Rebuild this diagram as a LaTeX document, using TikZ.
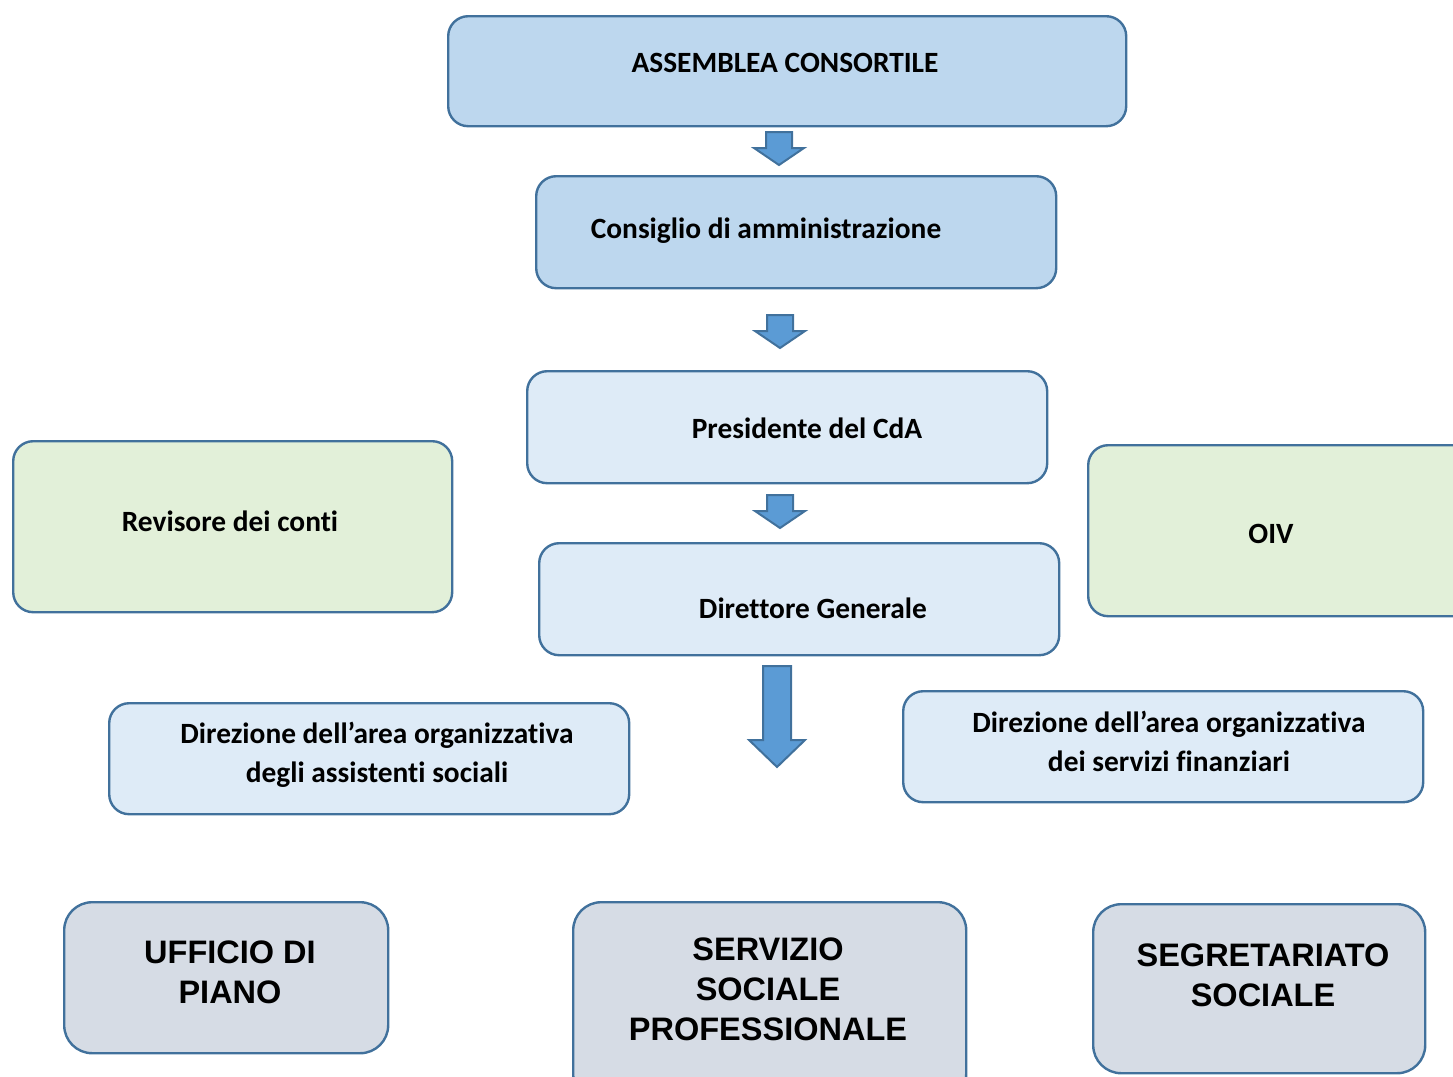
\documentclass[tikz,border=0pt]{standalone}
\usepackage{fontspec}
\setmainfont[Ligatures=NoCommon]{Carlito}
\newfontfamily\arialf{Liberation Sans}
\definecolor{bord}{HTML}{41719C}
\definecolor{fillA}{HTML}{BDD7EE}
\definecolor{fillB}{HTML}{DEEBF7}
\definecolor{fillG}{HTML}{E2F0D9}
\definecolor{fillC}{HTML}{D6DCE5}
\definecolor{arrf}{HTML}{5B9BD5}
\begin{document}
\begin{tikzpicture}[x=1pt,y=-1pt,
  boxbase/.style={draw=bord, line width=2.4pt, rounded corners=20pt, inner sep=0pt, anchor=north west},
  topbox/.style={boxbase, fill=fillA},
  lightbox/.style={boxbase, fill=fillB},
  greenbox/.style={boxbase, fill=fillG},
  graybox/.style={boxbase, fill=fillC, rounded corners=28pt},
  txt/.style={font=\bfseries\fontsize{29.4}{39}\selectfont, align=center, inner sep=0pt},
  bigtxt/.style={font=\arialf\bfseries\fontsize{32.5}{40}\selectfont, align=center, inner sep=0pt},
  darrow/.style={fill=arrf, draw=bord, line width=2pt, line join=miter}
]
\useasboundingbox (0,0) rectangle (1453,1076);
\begin{scope}
\clip (0,0) rectangle (1453,1076);
% boxes
\node[topbox, minimum width=678pt, minimum height=110pt] (assemblea) at (447,15) {};
\node[txt] (tassemblea) at (785,63) {ASSEMBLEA CONSORTILE};

\node[topbox, minimum width=520pt, minimum height=112pt] (consiglio) at (535,175) {};
\node[txt] (tconsiglio) at (766,231) {Consiglio di amministrazione};

\node[lightbox, minimum width=520pt, minimum height=112pt] (presidente) at (526,370) {};
\node[txt] (tpresidente) at (807,428) {Presidente del CdA};

\node[lightbox, minimum width=520pt, minimum height=112pt] (direttore) at (538,542) {};
\node[txt] (tdirettore) at (813,608) {Direttore Generale};

\node[greenbox, minimum width=439pt, minimum height=171pt] (revisore) at (12,440) {};
\node[txt] (trevisore) at (230,521) {Revisore dei conti};

\node[greenbox, minimum width=390pt, minimum height=171pt] (oiv) at (1087,444) {};
\node[txt] (toiv) at (1271,534) {OIV};

\node[lightbox, minimum width=520pt, minimum height=111pt] (dirsoc) at (108,702) {};
\node[txt] (tdirsoc) at (377,755) {Direzione dell’area organizzativa\\degli assistenti sociali};

\node[lightbox, minimum width=520pt, minimum height=111pt] (dirfin) at (902,690) {};
\node[txt] (tdirfin) at (1169,741) {Direzione dell’area organizzativa\\dei servizi finanziari};

\node[graybox, minimum width=324pt, minimum height=151pt] (ufficio) at (63,901) {};
\node[bigtxt] (tufficio) at (230,972) {UFFICIO DI\\PIANO};

\node[graybox, minimum width=393pt, minimum height=200pt] (servizio) at (572,901) {};
\node[bigtxt] (tservizio) at (768,989) {SERVIZIO\\SOCIALE\\PROFESSIONALE};

\node[graybox, minimum width=332pt, minimum height=169pt] (segretariato) at (1092,903) {};
\node[bigtxt] (tsegretariato) at (1263,975) {SEGRETARIATO\\SOCIALE};

% block arrows
\coordinate (a1) at (779,132);
\coordinate (a2) at (780,315);
\coordinate (a3) at (780,495);
\coordinate (a4) at (777,666);
\foreach \c in {a1,a2,a3}{
  \begin{scope}[shift={(\c)}]
  \draw[darrow] (-13,0) -- (13,0) -- (13,16) -- (25,16) -- (0,33) -- (-25,16) -- (-13,16) -- cycle;
  \end{scope}
}
\begin{scope}[shift={(a4)}]
\draw[darrow] (-14,0) -- (14,0) -- (14,74) -- (28,74) -- (0,101) -- (-28,74) -- (-14,74) -- cycle;
\end{scope}
\end{scope}
\end{tikzpicture}
\end{document}
